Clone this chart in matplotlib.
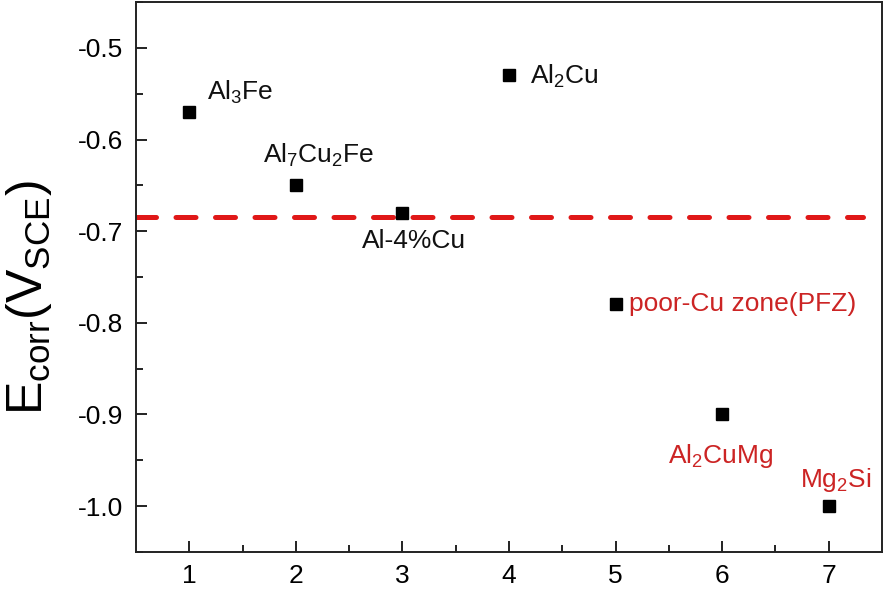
import numpy as np
import matplotlib
matplotlib.use('Agg')
import matplotlib.pyplot as plt

plt.rcParams['font.family'] = ['Liberation Sans', 'DejaVu Sans']
plt.rcParams['mathtext.fontset'] = 'custom'
plt.rcParams['mathtext.rm'] = 'Liberation Sans'
plt.rcParams['mathtext.it'] = 'Liberation Sans:italic'
plt.rcParams['mathtext.default'] = 'regular'

# data
phase_idx = [1, 2, 3, 4, 5, 6, 7]
e_corr = [-0.57, -0.65, -0.68, -0.53, -0.78, -0.90, -1.00]
labels = [r'Al$_3$Fe', r'Al$_7$Cu$_2$Fe', 'Al-4%Cu', r'Al$_2$Cu',
          'poor-Cu zone(PFZ)', r'Al$_2$CuMg', r'Mg$_2$Si']
label_red = [False, False, False, False, True, True, True]
ref_level = -0.684

# label placement (offset in points, ha, va)
offsets = [(13, 9, 'left', 'baseline'),
           (-24, 16, 'left', 'baseline'),
           (8, -25, 'center', 'baseline'),
           (15, -1, 'left', 'center'),
           (10, 0, 'left', 'center'),
           (-1, -35, 'center', 'baseline'),
           (5, 14, 'center', 'baseline')]

red = '#cc2424'

fig = plt.figure(figsize=(8.86, 5.92), dpi=100)
ax = fig.add_axes([0.1535, 0.0676, 0.842, 0.929])

ax.plot(phase_idx, e_corr, 's', color='black', markersize=8.5, zorder=3)
ax.plot([0.5, 7.32], [ref_level, ref_level], color='#e01818', lw=3.6,
        linestyle=(0, (4, 3.9)), dash_capstyle='round', zorder=2)

for x, y, lab, isred, (dx, dy, ha, va) in zip(phase_idx, e_corr, labels, label_red, offsets):
    ax.annotate(lab, (x, y), xytext=(dx, dy), textcoords='offset points',
                ha=ha, va=va, fontsize=19, color=red if isred else '#111111')

ax.set_xlim(0.5, 7.5)
ax.set_ylim(-1.05, -0.45)
ax.set_xticks(range(1, 8))
ax.set_xticks(np.arange(1.5, 7.5, 1.0), minor=True)
ax.set_yticks([-1.0, -0.9, -0.8, -0.7, -0.6, -0.5])
ax.set_yticks(np.arange(-1.05, -0.449, 0.05).round(2), minor=True)
ax.set_yticklabels(['-1.0', '-0.9', '-0.8', '-0.7', '-0.6', '-0.5'])

ax.tick_params(which='major', direction='in', length=8, width=1.4,
               labelsize=19, color='#222222')
ax.tick_params(which='minor', direction='in', length=5, width=1.4, color='#222222')
ax.tick_params(axis='x', pad=9)
ax.tick_params(axis='y', pad=9)

for s in ax.spines.values():
    s.set_linewidth(1.4)
    s.set_color('#222222')

ax.set_ylabel(r'E$_{corr}$(V$_{SCE}$)', fontsize=36, va='center')
ax.yaxis.set_label_coords(-0.143, 0.462)

fig.savefig('out.png', dpi=100)
